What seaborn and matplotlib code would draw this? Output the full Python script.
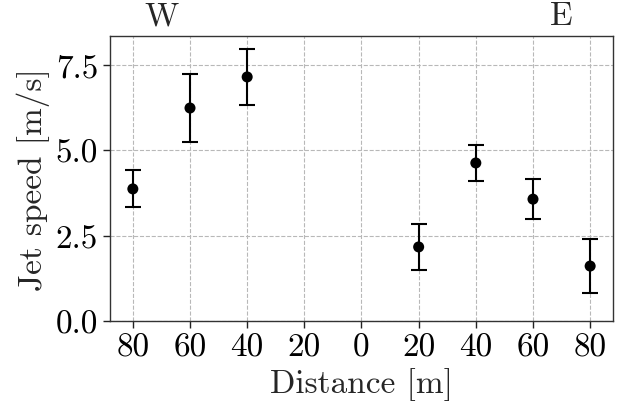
import matplotlib
matplotlib.use('Agg')
import matplotlib.pyplot as plt
import matplotlib.transforms as mtransforms
import seaborn as sns
import pandas as pd

# distance along the section (negative = west side)
distance = [-80, -60, -40, 20, 40, 60, 80]
speed = [3.87, 6.24, 7.15, 2.17, 4.63, 3.57, 1.61]
speed_err = [0.54, 1.0, 0.83, 0.67, 0.54, 0.59, 0.79]
tick_pos = [-80, -60, -40, -20, 0, 20, 40, 60, 80]
tick_lab = ['80', '60', '40', '20', '0', '20', '40', '60', '80']

sns.set_style('ticks')
plt.rcParams['font.family'] = ['cmr10', 'DejaVu Serif']
plt.rcParams['axes.formatter.use_mathtext'] = True
plt.rcParams['mathtext.fontset'] = 'cm'

df = pd.DataFrame({'dist': distance, 'speed': speed, 'err': speed_err})

fig, ax = plt.subplots(figsize = (6.27, 4.10), dpi = 100)
fig.subplots_adjust(left = 0.1754, right = 0.9777, top = 0.9098, bottom = 0.2146)

ax.errorbar(df['dist'], df['speed'], yerr = df['err'], fmt = 'none',
	ecolor = 'black', elinewidth = 1.5, capsize = 6, capthick = 1.5, zorder = 3)
sns.scatterplot(data = df, x = 'dist', y = 'speed', color = 'black', s = 63,
	edgecolor = 'none', ax = ax, zorder = 4)

ax.set_xlim(-88, 88)
ax.set_ylim(0, 8.35)
ax.set_xticks(tick_pos)
ax.set_xticklabels(tick_lab)
ax.set_yticks([0, 2.5, 5.0, 7.5])
ax.set_yticklabels(['0.0', '2.5', '5.0', '7.5'])
ax.grid(True, linestyle = '--', color = '#b8b8b8', linewidth = 0.8)
ax.set_axisbelow(True)
for sp in ax.spines.values():
	sp.set_color('#333333')
	sp.set_linewidth(1.0)
ax.tick_params(labelsize = 24, length = 5, width = 1, colors = '#222222')
for lab in ax.get_xticklabels() + ax.get_yticklabels():
	lab.set_color('black')
ax.set_xlabel('Distance [m]', fontsize = 24)
ax.set_ylabel('Jet speed [m/s]', fontsize = 24)

trans = mtransforms.blended_transform_factory(ax.transData, ax.transAxes)
ax.text(-70, 1.02, 'W', transform = trans, ha = 'center', va = 'bottom', fontsize = 24)
ax.text(70, 1.02, 'E', transform = trans, ha = 'center', va = 'bottom', fontsize = 24)

fig.savefig('out.png', dpi = 100)
